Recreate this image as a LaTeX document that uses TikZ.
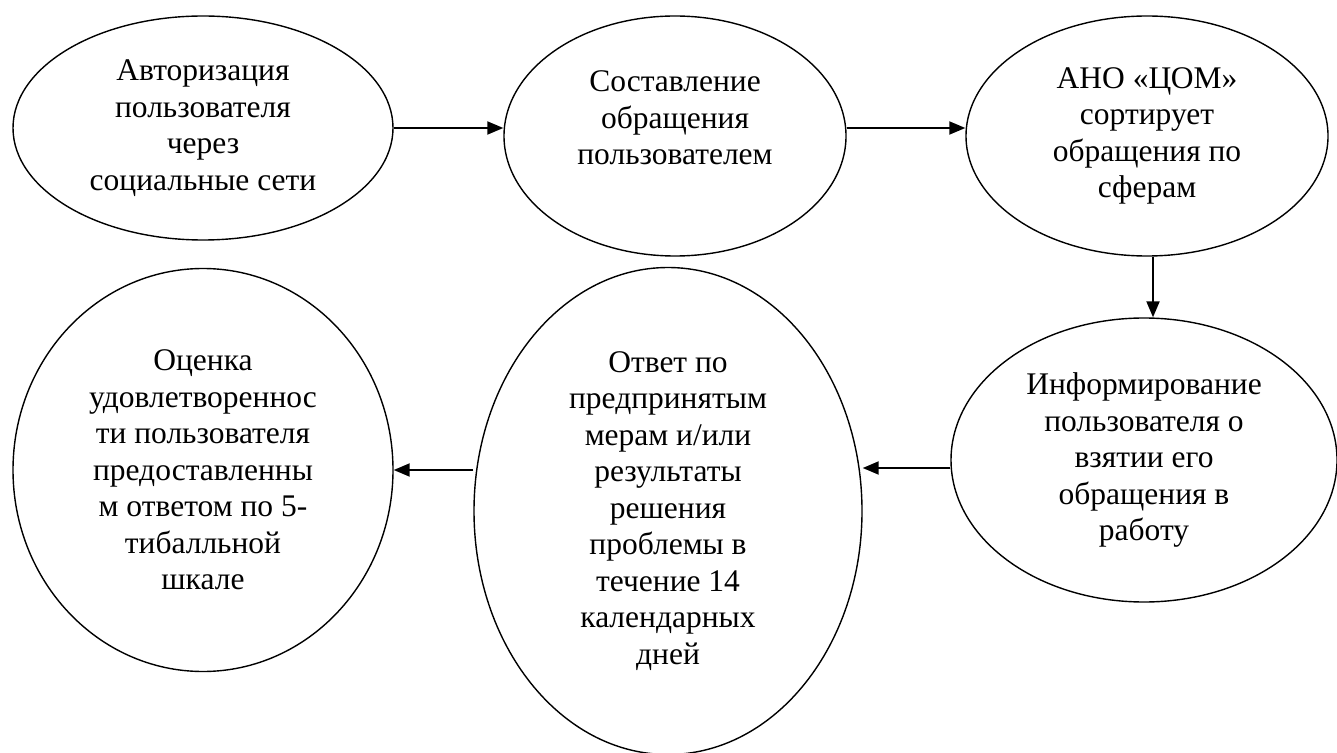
\documentclass[tikz,border=0pt]{standalone}
\usepackage{fontspec}
\setmainfont{Liberation Serif}
\usepackage{tikz}
\usetikzlibrary{arrows.meta}
\usetikzlibrary{shapes, positioning}

\begin{document}
\begin{tikzpicture}[->,>={Triangle[length=8pt,width=6.5pt]},on grid,line width=1pt,
	stage/.style={ellipse,draw,line width=0.7pt,inner sep=0pt,align=center,
		font=\fontsize{15.75}{18.25}\selectfont}]
\useasboundingbox (0,0) rectangle (668.5pt,-376.5pt);
\node[stage,minimum width=190pt,minimum height=112pt] (auth) at (101.5pt,-64pt)
	{Авторизация\\пользователя\\через\\социальные сети};
\node[stage,minimum width=171pt,minimum height=120pt] (compose) [below right=4pt and 236pt of auth]
	{Составление\\обращения\\пользователем\\~};
\node[stage,minimum width=181pt,minimum height=120pt] (sort) [right=236pt of compose]
	{АНО «ЦОМ»\\сортирует\\обращения по\\сферам};
\node[stage,minimum width=193pt,minimum height=142pt] (inform) [below left=162pt and 1.5pt of sort]
	{Информирование\\пользователя о\\взятии его\\обращения в\\работу};
\node[stage,minimum width=194pt,minimum height=243.5pt] (reply) [below left=25.5pt and 238pt of inform]
	{Ответ по\\предпринятым\\мерам и/или\\результаты\\решения\\проблемы в\\течение 14\\календарных\\дней};
\node[stage,minimum width=190pt,minimum height=201.5pt] (rate) [above left=20.5pt and 232.5pt of reply]
	{Оценка\\удовлетвореннос\\ти пользователя\\предоставленны\\м ответом по 5-\\тибалльной\\шкале};

\path (auth.east) edge (auth.east -| compose.west)
	([yshift=4pt]compose.east) edge ([yshift=4pt]sort.west)
	([xshift=3pt]sort.south) edge ([xshift=3pt]sort.south |- inform.north)
	([yshift=-4pt]inform.west) edge ([yshift=-4pt]inform.west -| reply.east)
	(reply.west |- rate.east) edge (rate.east)
;
\end{tikzpicture}
\end{document}
